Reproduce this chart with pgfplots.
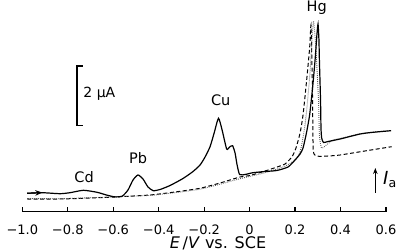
\documentclass[border=0pt]{standalone}
\usepackage{fontspec}
\setmainfont{DejaVu Sans}
\usepackage{pgfplots}
\pgfplotsset{compat=1.18}
\usetikzlibrary{arrows.meta}
\begin{document}
\begin{tikzpicture}
\begin{axis}[
  at={(22.3pt,39.3pt)}, anchor=south west,
  scale only axis, width=363.7pt, height=211.7pt,
  xmin=-1, xmax=0.6, ymin=0, ymax=211.7,
  axis x line*=bottom, axis y line=none,
  clip=false,
  xtick={-1,-0.8,-0.6,-0.4,-0.2,0,0.2,0.4,0.6},
  xticklabels={−1.0,−0.8,−0.6,−0.4,−0.2,0,0.2,0.4,0.6},
  minor xtick={},
  tick align=inside, major tick length=4.5pt,
  every tick/.style={black, line width=1.2pt},
  axis line style={line width=1.3pt},
  xticklabel style={font=\fontsize{13}{15}\selectfont, yshift=-9.5pt},
]
% dashed
\addplot[black, line width=1pt, dash pattern=on 4pt off 2.5pt, smooth, tension=0.35] coordinates {
(-0.979,12.7) (-0.834,12.7) (-0.658,14.0) (-0.592,14.7) (-0.438,16.7) (-0.328,19.7) (-0.218,23.4) (-0.130,28.7) (-0.042,34.7) (0.002,36.2) (0.068,40.7) (0.134,45.7) (0.156,47.7) (0.186,54.7) (0.204,63.7) (0.222,78.7) (0.235,96.7) (0.251,131.7) (0.264,163.7) (0.270,186.7) (0.274,151.7) (0.277,111.7) (0.280,61.7) (0.295,55.7) (0.345,55.7) (0.398,56.7) (0.515,61.0) (0.625,65.0)};
% dotted
\addplot[black!65, line width=0.9pt, dash pattern=on 0.8pt off 1.2pt, smooth, tension=0.35] coordinates {
(-0.975,13.2) (-0.834,13.0) (-0.658,14.3) (-0.592,15.0) (-0.438,16.3) (-0.328,19.0) (-0.218,22.5) (-0.130,27.5) (-0.042,33.0) (0.068,39.0) (0.156,45.5) (0.200,52.0) (0.222,60.0) (0.237,76.7) (0.249,96.7) (0.263,131.7) (0.272,161.7) (0.281,190.7) (0.292,161.7) (0.303,111.7) (0.307,76.7) (0.316,63.7) (0.332,65.7) (0.367,71.7) (0.398,73.2) (0.486,77.9) (0.543,79.6) (0.622,81.2)};
% solid
\addplot[black, line width=1.2pt, smooth, tension=0.35] coordinates {
(-0.979,18.4) (-0.913,19.0) (-0.834,18.0) (-0.790,19.0) (-0.731,21.4) (-0.671,19.4) (-0.627,16.5) (-0.592,14.8) (-0.560,15.6) (-0.535,21.7) (-0.513,31.7) (-0.491,36.7) (-0.469,32.7) (-0.447,24.7) (-0.424,21.0) (-0.394,22.2) (-0.350,26.2) (-0.293,33.2) (-0.249,40.2) (-0.218,46.7) (-0.196,54.7) (-0.174,65.0) (-0.156,78.7) (-0.137,93.4) (-0.121,81.7) (-0.101,62.7) (-0.088,64.7) (-0.075,66.0) (-0.064,58.7) (-0.055,46.7) (-0.044,37.2) (-0.020,37.2) (0.015,39.0) (0.068,40.2) (0.120,41.2) (0.169,44.7) (0.200,51.7) (0.222,57.7) (0.235,63.7) (0.250,78.7) (0.264,96.7) (0.277,123.7) (0.288,151.7) (0.296,176.7) (0.301,187.7) (0.305,171.7) (0.307,151.7) (0.312,111.7) (0.314,83.7) (0.317,73.7) (0.325,69.2) (0.345,70.2) (0.398,72.7) (0.486,77.7) (0.543,79.4) (0.622,81.0)};
% start arrow
\addplot[black, line width=1.2pt, -{Stealth[length=7pt,width=5.5pt]}] coordinates {(-0.979,18.4) (-0.912,19.1)};
% I_a arrow
\addplot[black, line width=1.1pt, -{Stealth[length=6pt,width=4.5pt]}] coordinates {(0.553,18.7) (0.553,43.7)};
\node[anchor=base west, font=\fontsize{18}{20}\selectfont, inner sep=0pt] at (axis cs:0.587,26.7) {\textit{I}\textsubscript{a}};
% scale bar
\draw[black, line width=1.3pt] (axis cs:-0.733,145.7) -- (axis cs:-0.759,145.7) -- (axis cs:-0.759,86) -- (axis cs:-0.733,86);
\node[anchor=west, inner sep=0pt, font=\fontsize{14}{16}\selectfont] at (axis cs:-0.732,118.4) {2 µA};
% peak labels
\node[font=\fontsize{14.5}{17}\selectfont] at (axis cs:-0.728,35) {Cd};
\node[font=\fontsize{14.5}{17}\selectfont] at (axis cs:-0.491,53.7) {Pb};
\node[font=\fontsize{14.5}{17}\selectfont] at (axis cs:-0.127,111.7) {Cu};
\node[font=\fontsize{14.5}{17}\selectfont] at (axis cs:0.295,203.7) {Hg};
% axis label
\node[font=\fontsize{16}{19}\selectfont] at (axis cs:-0.139,0) [yshift=-31.5pt] {\textit{E}\,/\textit{V} vs. SCE};
\end{axis}
\pgfresetboundingbox
\useasboundingbox (0,0) rectangle (397pt,251pt);
\end{tikzpicture}
\end{document}
